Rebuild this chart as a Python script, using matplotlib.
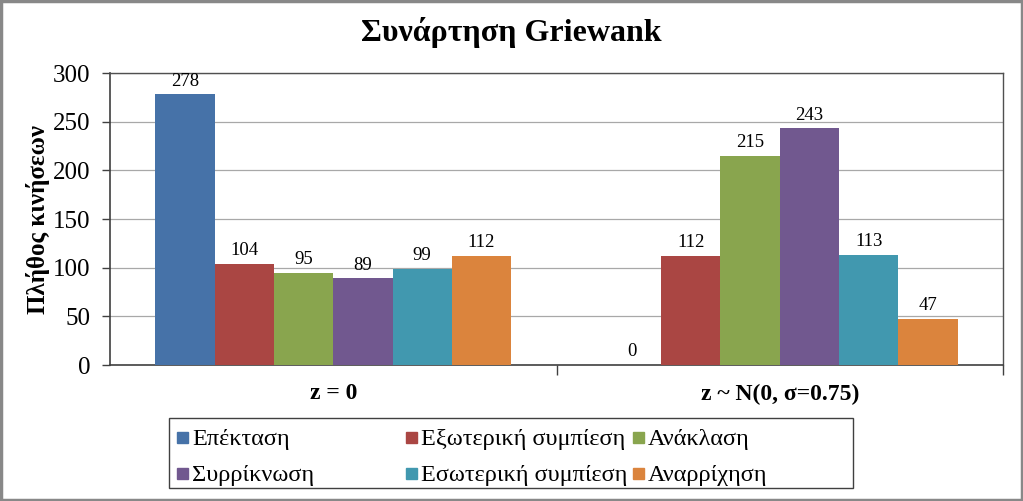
import matplotlib.pyplot as plt
import numpy as np
from matplotlib.patches import Rectangle

plt.rcParams['font.family'] = ['Liberation Serif', 'DejaVu Serif']

# data
categories = ['z = 0', 'z ~ N(0, σ=0.75)']
series_names = ['Επέκταση', 'Εξωτερική συμπίεση', 'Ανάκλαση',
                'Συρρίκνωση', 'Εσωτερική συμπίεση', 'Αναρρίχηση']
values = [
    [278, 0],    # Επέκταση
    [104, 112],  # Εξωτερική συμπίεση
    [95, 215],   # Ανάκλαση
    [89, 243],   # Συρρίκνωση
    [99, 113],   # Εσωτερική συμπίεση
    [112, 47],   # Αναρρίχηση
]
colors = ['#4672A8', '#AA4643', '#89A54E', '#71588F', '#4198AF', '#DB843D']
y_ticks = [0, 50, 100, 150, 200, 250, 300]

W, H = 1023, 501
fig = plt.figure(figsize=(W / 100, H / 100), dpi=100)
ax = fig.add_axes([110 / W, 1 - 365 / H, 893 / W, 292 / H])

x = np.arange(len(categories))
width = 0.1328
n = len(series_names)
for i, (name, vals, col) in enumerate(zip(series_names, values, colors)):
    pos = x - width * n / 2 + width * (i + 0.5)
    ax.bar(pos, vals, width, color=col, label=name, zorder=3)
    for p, v in zip(pos, vals):
        ax.text(p, v + 5, str(v), ha='center', va='bottom', fontsize=13.5)

ax.set_xlim(-0.5, 1.5)
ax.set_ylim(0, 300)
ax.set_yticks(y_ticks)
ax.tick_params(axis='y', labelsize=18, length=6, width=1, color='#404040', pad=8)
ax.yaxis.grid(True, color='#A8A8A8', linewidth=0.9, zorder=0)

# category axis: separator ticks between groups, labels centred
ax.set_xticks([0.5, 1.5])
ax.set_xticklabels([])
ax.tick_params(axis='x', length=7, width=1, color='#404040')
for xi, cat in zip(x, categories):
    ax.text(xi, -19, cat, ha='center', va='top', fontsize=17, fontweight='bold')

for side in ['left', 'bottom']:
    ax.spines[side].set_color('#404040')
    ax.spines[side].set_linewidth(1.2)
for side in ['top', 'right']:
    ax.spines[side].set_color('#505050')
    ax.spines[side].set_linewidth(1.0)

ax.set_ylabel('Πλήθος κινήσεων', fontsize=18, fontweight='bold', labelpad=2)
fig.text(0.5, 1 - 33 / H, 'Συνάρτηση Griewank', ha='center', va='center',
         fontsize=23, fontweight='bold')

# legend: Excel-style box, filled row by row with uneven columns
col_x = [177, 406, 633]
row_y = [437, 473]
fig.patches.append(Rectangle((169 / W, 1 - 488 / H), (853 - 169) / W, 70 / H,
                             transform=fig.transFigure, fill=False,
                             edgecolor='#404040', linewidth=1.0))
for i, (name, col) in enumerate(zip(series_names, colors)):
    lx = col_x[i % 3]
    ly = row_y[i // 3]
    fig.patches.append(Rectangle((lx / W, 1 - (ly + 5.5) / H), 11 / W, 11 / H,
                                 transform=fig.transFigure, color=col))
    fig.text((lx + 15) / W, 1 - ly / H, name, ha='left', va='center_baseline',
             fontsize=17.5)

# outer chart border
fig.patches.append(Rectangle((0.001, 0.002), 0.998, 0.996, transform=fig.transFigure,
                             fill=False, edgecolor='#888888', linewidth=2.5))

fig.savefig('out.png', dpi=100)
